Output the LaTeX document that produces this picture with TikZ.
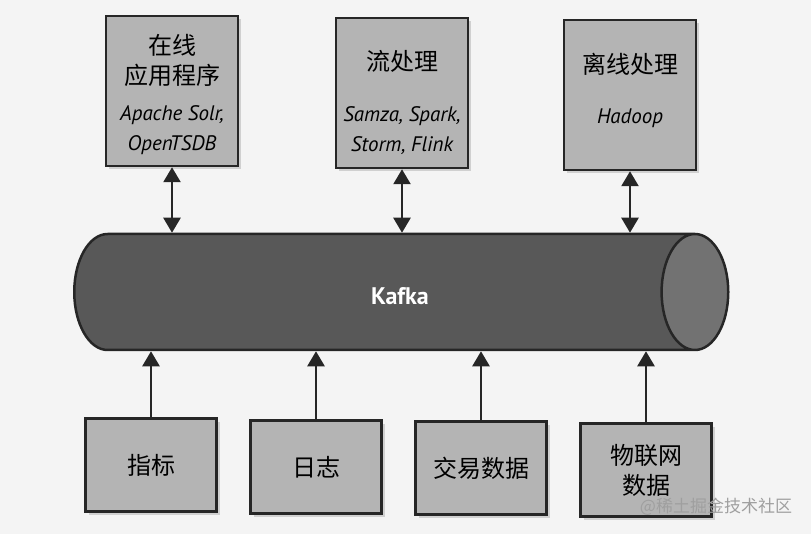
\documentclass[tikz,border=0pt]{standalone}
\usepackage{fontspec}
\setmainfont{PT Sans}
\newfontfamily\cjk{Noto Sans CJK SC}
\usepackage{xcolor}
\definecolor{kfpaper}{RGB}{244,244,244}
\definecolor{kfbox}{RGB}{180,180,180}
\definecolor{kfpipe}{RGB}{88,88,88}
\definecolor{kfpipeend}{RGB}{114,114,114}
\definecolor{kfline}{RGB}{38,38,38}
\newcommand\kftool{\rmfamily\itshape\fontsize{21}{26}\selectfont}
\usetikzlibrary{arrows.meta, positioning, shapes.geometric, shadows}

\begin{document}
\begin{tikzpicture}[x=1pt,y=-1pt,
  appbox/.style={draw=kfline,line width=2.5pt,fill=kfbox,minimum width=132pt,minimum height=150pt,
    drop shadow={opacity=0.3,shadow xshift=3pt,shadow yshift=-3pt}},
  srcbox/.style={appbox,minimum width=131pt,minimum height=93pt,align=center,font=\cjk\fontsize{24}{30}\selectfont},
  boxtext/.style={align=center,font=\cjk\fontsize{24}{30}\selectfont},
  link/.style={draw=kfline,line width=2.5pt,-{Triangle[width=17pt,length=15pt]}},
  both/.style={link,{Triangle[width=17pt,length=15pt]}-{Triangle[width=17pt,length=15pt]}}]
  \fill[kfpaper] (0,0) rectangle (811,534);
  \useasboundingbox (0,0) rectangle (811,534);

  \node[cylinder,shape border rotate=0,aspect=10,draw=kfline,line width=2.5pt,anchor=west,
    cylinder uses custom fill,cylinder body fill=kfpipe,cylinder end fill=kfpipeend,
    minimum width=116pt,minimum height=654pt] (kafka) at (73,292) {};
  \node[text=white,font=\bfseries\fontsize{24}{28}\selectfont] (kafkatext) at (400,296) {Kafka};

  \node[appbox] (online) at (172,91) {};
  \node[appbox] (stream) at (402,93) {};
  \node[appbox] (offline) at (630,95) {};
  \node[boxtext] (onlinetext) at (172,94) {在线\\应用程序\\[6pt]{\kftool Apache Solr,}\\{\kftool OpenTSDB}};
  \node[boxtext] (streamtext) at (402,102) {流处理\\[21pt]{\kftool Samza, Spark,}\\{\kftool Storm, Flink}};
  \node[boxtext] (offlinetext) at (630,90) {离线处理\\[20pt]{\kftool Hadoop}};

  \node[srcbox] (metrics) at (151,465) {指标};
  \node[srcbox] (logs) at (316,467) {日志};
  \node[srcbox] (trades) at (481,468) {交易数据};
  \node[srcbox] (iot) at (646,470) {物联网\\数据};

  \draw[both] (online) -- (online |- kafka.north);
  \draw[both] (stream) -- (stream |- kafka.north);
  \draw[both] (offline) -- (offline |- kafka.north);
  \draw[link] (metrics) -- (metrics |- kafka.south);
  \draw[link] (logs) -- (logs |- kafka.south);
  \draw[link] (trades) -- (trades |- kafka.south);
  \draw[link] (iot) -- (iot |- kafka.south);

  \node[text=gray!75,font=\cjk\fontsize{17}{20}\selectfont] (watermark) at (716,507) {@稀土掘金技术社区};
\end{tikzpicture}
\end{document}
